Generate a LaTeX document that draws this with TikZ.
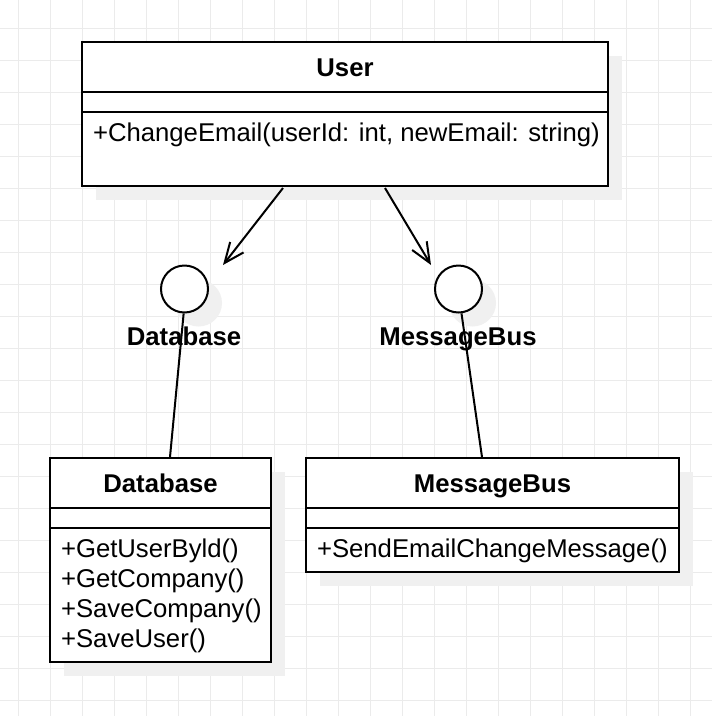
\documentclass[tikz,border=0pt]{standalone}
\usepackage{fontspec}
\setmainfont{Liberation Sans}
\usetikzlibrary{arrows.meta,calc}
\definecolor{gridc}{HTML}{EBEBEB}
\definecolor{shadowc}{HTML}{F0F0F0}
\begin{document}
\begin{tikzpicture}[x=1pt,y=-1pt,line width=2pt,
  every node/.style={font=\fontsize{25.7}{30}\selectfont},
  compart/.style 2 args={draw=black,fill=white,rectangle,inner sep=0pt,minimum width=#1,minimum height=#2},
  lbl/.style={font=\fontsize{25.7}{30}\selectfont\bfseries,anchor=base,inner sep=0pt},
  meth/.style={anchor=base west,inner sep=0pt},
  iface/.style={draw=black,fill=white,circle,inner sep=0pt,minimum size=47pt},
  openarrow/.style={-{Straight Barb[length=20pt,width=17pt,line width=2pt]}},
  shadowfill/.style={fill=shadowc,draw=none}
]
\useasboundingbox (0,0) rectangle (712,716);
\fill[white] (0,0) rectangle (712,716);
% grid
\foreach \gx in {18,50,...,706} \draw[gridc,line width=1pt] (\gx,0) -- (\gx,716);
\foreach \gy in {28.5,60.5,...,716} \draw[gridc,line width=1pt] (0,\gy) -- (712,\gy);

% shadows
\fill[shadowfill] (96,56) rectangle (622,200);
\fill[shadowfill] (64,472) rectangle (285,676);
\fill[shadowfill] (320,472) rectangle (693,586);
\fill[shadowfill] (198.5,303) circle[radius=23.5];
\fill[shadowfill] (472.5,303) circle[radius=23.5];

% User class
\node[compart={526pt}{50pt}] (userhead) at (345,67) {};
\node[compart={526pt}{20pt}] (userattr) at (345,102) {};
\node[compart={526pt}{74pt}] (usermeth) at (345,149) {};
\node[lbl] (usertitle) at (345,76) {User};
\node[meth] (um1) at (92,141) {+ChangeEmail(userId: int, newEmail: string)};

% Database class
\node[compart={221pt}{50pt}] (dbhead) at (160.5,483) {};
\node[compart={221pt}{20pt}] (dbattr) at (160.5,518) {};
\node[compart={221pt}{134pt}] (dbmeth) at (160.5,595) {};
\node[lbl] (dbtitle) at (160.5,492) {Database};
\node[meth] (dm1) at (60,557) {+GetUserByld()};
\node[meth] (dm2) at (60,587) {+GetCompany()};
\node[meth] (dm3) at (60,617) {+SaveCompany()};
\node[meth] (dm4) at (60,647) {+SaveUser()};

% MessageBus class
\node[compart={373pt}{50pt}] (mbhead) at (492.5,483) {};
\node[compart={373pt}{20pt}] (mbattr) at (492.5,518) {};
\node[compart={373pt}{44pt}] (mbmeth) at (492.5,550) {};
\node[lbl] (mbtitle) at (492.5,492) {MessageBus};
\node[meth] (mm1) at (316,557) {+SendEmailChangeMessage()};

% interfaces
\node[iface] (dbi) at (184.5,289) {};
\node[iface] (mbi) at (458.5,289) {};
\node[lbl] (dbilbl) at (184,345) {Database};
\node[lbl] (mbilbl) at (458,345) {MessageBus};

% connectors
\coordinate (a1s) at ($(usermeth.south west)+(202,1)$);
\coordinate (a1e) at (223,265);
\coordinate (a2s) at ($(usermeth.south west)+(304,1)$);
\coordinate (a2e) at (431,265);
\draw[openarrow] (a1s) -- (a1e);
\draw[openarrow] (a2s) -- (a2e);

\draw (dbi.268) -- ($(dbhead.north)+(9.5,0)$);
\draw (mbi.277) -- ($(mbhead.north)+(-10.5,0)$);
\end{tikzpicture}
\end{document}
